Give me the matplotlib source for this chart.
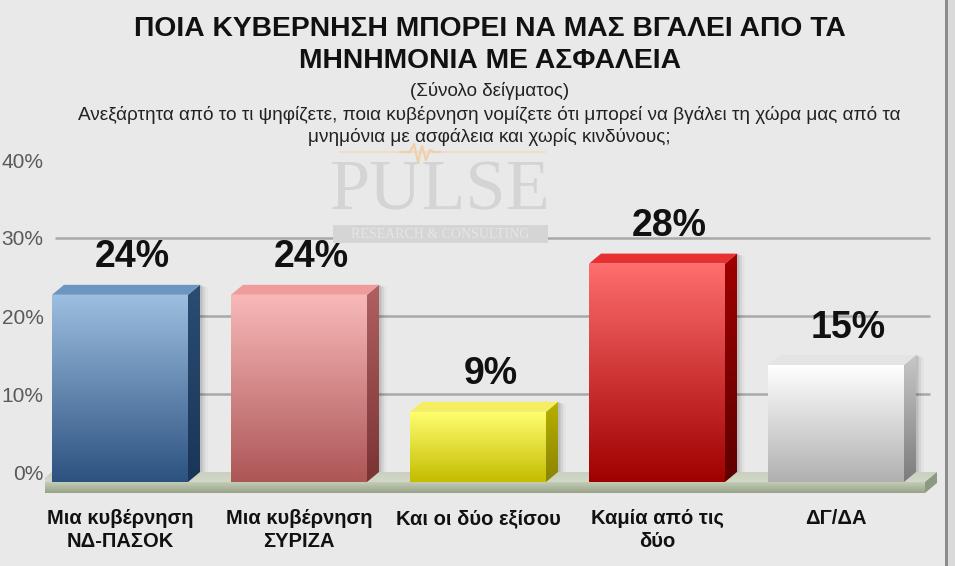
import numpy as np
import matplotlib
matplotlib.use("Agg")
import matplotlib.pyplot as plt
from matplotlib.patches import Polygon, Rectangle
from matplotlib.lines import Line2D
from matplotlib import font_manager as fm
from matplotlib.colors import to_rgb

# ---------------- data ----------------
categories = ["Μια κυβέρνηση\nΝΔ-ΠΑΣΟΚ", "Μια κυβέρνηση\nΣΥΡΙΖΑ", "Και οι δύο εξίσου",
              "Καμία από τις\nδύο", "ΔΓ/ΔΑ"]
values = [24, 24, 9, 28, 15]
value_labels = ["24%", "24%", "9%", "28%", "15%"]
yticks = [0, 10, 20, 30, 40]
ytick_labels = ["0%", "10%", "20%", "30%", "40%"]
gridlines = [10, 20, 30]

title = "ΠΟΙΑ ΚΥΒΕΡΝΗΣΗ ΜΠΟΡΕΙ ΝΑ ΜΑΣ ΒΓΑΛΕΙ ΑΠΟ ΤΑ\nΜΗΝΗΜΟΝΙΑ ΜΕ ΑΣΦΑΛΕΙΑ"
subtitle = "(Σύνολο δείγματος)"
question = ("Ανεξάρτητα από το τι ψηφίζετε, ποια κυβέρνηση νομίζετε ότι μπορεί να βγάλει τη χώρα μας από τα\n"
            "μνημόνια με ασφάλεια και χωρίς κινδύνους;")

# colours: (front top, front bottom, side top, side bottom, top face)
bar_colors = [
    ("#9dbfe0", "#2c5280", "#2a4d74", "#1a3556", "#6c96c2"),
    ("#f9b9b9", "#ad5656", "#b06060", "#7a3434", "#ee9c9c"),
    ("#ffff70", "#c4bc00", "#b8b000", "#8a8400", "#f4ee60"),
    ("#ff6e6e", "#a00000", "#a00000", "#5e0000", "#e83030"),
    ("#ffffff", "#b0b0b0", "#c8c8c8", "#7c7c7c", "#e4e4e4"),
]

# ---------------- fonts ----------------
names = {f.name for f in fm.fontManager.ttflist}
NARROW = "Liberation Sans Narrow" if "Liberation Sans Narrow" in names else "Liberation Sans"
plt.rcParams["font.family"] = ["Liberation Sans", "DejaVu Sans"]

W_PX, H_PX = 955, 566
fig = plt.figure(figsize=(W_PX / 100, H_PX / 100), dpi=100)
fig.patch.set_facecolor("#e9e9e9")

# axes geometry (pixel based)
px_per_unit_x = 179.0
x0_px = 120.0
px_per_pct = 7.8
y0_px = 472.0
ax_left_px, ax_right_px = 45, 955
ax_top_px, ax_bot_px = 152.2, 503.2
ax = fig.add_axes([ax_left_px / W_PX, 1 - ax_bot_px / H_PX,
                   (ax_right_px - ax_left_px) / W_PX, (ax_bot_px - ax_top_px) / H_PX])
ax.set_facecolor("none")
xl = ((ax_left_px - x0_px) / px_per_unit_x, (ax_right_px - x0_px) / px_per_unit_x)
yl = ((y0_px - ax_bot_px) / px_per_pct, (y0_px - ax_top_px) / px_per_pct)

W = 136 / px_per_unit_x
DX = 12 / px_per_unit_x
DY = 10 / px_per_pct


def grad_poly(verts, c_top, c_bot, z):
    verts = np.asarray(verts)
    poly = Polygon(verts, closed=True, facecolor="none", edgecolor="none", zorder=z)
    ax.add_patch(poly)
    t = np.linspace(0, 1, 200)[:, None]
    a, b = np.array(to_rgb(c_top)), np.array(to_rgb(c_bot))
    arr = (a[None, :] * (1 - t) + b[None, :] * t)[:, None, :]
    im = ax.imshow(arr, extent=(verts[:, 0].min(), verts[:, 0].max(),
                                verts[:, 1].min(), verts[:, 1].max()),
                   aspect="auto", origin="upper", zorder=z, interpolation="bilinear")
    im.set_clip_path(poly)
    return im


# watermark (behind everything)
fig.text(440 / W_PX, 1 - 192 / H_PX, "PULSE", ha="center", va="center",
         family=["Liberation Serif", "DejaVu Serif"], fontsize=52, color="#d4d4d4", zorder=0)
fig.patches.append(Rectangle((333 / W_PX, 1 - 243 / H_PX), 215 / W_PX, 18 / H_PX,
                             transform=fig.transFigure, facecolor="#d5d5d5",
                             edgecolor="none", zorder=0))
fig.text(440 / W_PX, 1 - 234 / H_PX, "RESEARCH & CONSULTING", ha="center", va="center",
         family=["Liberation Serif", "DejaVu Serif"], fontsize=10, color="#e6e6e6", zorder=0)
fig.lines.append(Line2D(np.array([340, 545]) / W_PX, [1 - 152 / H_PX] * 2,
                        transform=fig.transFigure, color="#f0dcc8", linewidth=1.5, zorder=0))
pulse_x = np.array([400, 410, 414, 418, 422, 426, 430, 434, 440])
pulse_y = np.array([152, 152, 144, 162, 146, 160, 150, 152, 152])
fig.lines.append(Line2D(pulse_x / W_PX, 1 - pulse_y / H_PX,
                        transform=fig.transFigure, color="#efcfa8", linewidth=1.5, zorder=0))

# gridlines on back wall
ax.hlines(gridlines, (55 - x0_px) / px_per_unit_x, (930 - x0_px) / px_per_unit_x,
          colors="#a8a8a8", linewidth=1.8, zorder=1)

# floor
fl_l, fl_r = (40 - x0_px) / px_per_unit_x, (925 - x0_px) / px_per_unit_x
FH = 11 / px_per_pct
grad_poly([(fl_l, -DY), (fl_r, -DY), (fl_r + DX, 0), (fl_l + DX, 0)], "#c9d0bd", "#d3d9c8", 2)
grad_poly([(fl_l, -DY - FH), (fl_r, -DY - FH), (fl_r, -DY), (fl_l, -DY)], "#c4ccb5", "#97a289", 2)
ax.add_patch(Polygon([(fl_r, -DY - FH), (fl_r + DX, -FH), (fl_r + DX, 0), (fl_r, -DY)],
                     closed=True, facecolor="#8e9a80", edgecolor="none", zorder=2))

# bars
for i, (v, cols) in enumerate(zip(values, bar_colors)):
    ftop, fbot, stop, sbot, topc = cols
    xl_, xr_ = i - W / 2, i + W / 2
    # soft shadow on the right
    for k, al in enumerate([0.10, 0.06, 0.03]):
        off = (k + 1) * 2.5 / px_per_unit_x
        ax.add_patch(Polygon([(xr_ + DX, 0), (xr_ + DX + off, 0), (xr_ + DX + off, v - 0.3),
                              (xr_ + DX, v)], closed=True, facecolor="black", alpha=al,
                             edgecolor="none", zorder=3))
    grad_poly([(xl_, -DY), (xr_, -DY), (xr_, v - DY), (xl_, v - DY)], ftop, fbot, 5)
    grad_poly([(xr_, -DY), (xr_ + DX, 0), (xr_ + DX, v), (xr_, v - DY)], stop, sbot, 5)
    ax.add_patch(Polygon([(xl_, v - DY), (xr_, v - DY), (xr_ + DX, v), (xl_ + DX, v)],
                         closed=True, facecolor=topc, edgecolor="none", zorder=5))
    ax.text(i + 0.07, v + 3.5, value_labels[i], ha="center", va="center",
            fontsize=27, fontweight="bold", color="#111111", zorder=6)

ax.set_xlim(*xl)
ax.set_ylim(*yl)
ax.set_yticks(yticks, ytick_labels)
ax.set_xticks(range(len(categories)), categories)
ax.tick_params(axis="y", length=0, pad=1, labelsize=15, labelcolor="#5a5a5a")
ax.tick_params(axis="x", length=0, pad=4, labelsize=14.5, labelcolor="#111111")
for lab in ax.get_xticklabels():
    lab.set_family([NARROW, "DejaVu Sans"])
    lab.set_fontweight("bold")
    lab.set_linespacing(1.25)
for lab in ax.get_yticklabels():
    lab.set_family([NARROW, "DejaVu Sans"])
for s in ax.spines.values():
    s.set_visible(False)

# titles
fig.text(490 / W_PX, 1 - 45 / H_PX, title, ha="center", va="center",
         family=[NARROW, "DejaVu Sans"], fontsize=20.3, fontweight="bold",
         color="#111111", linespacing=1.25)
fig.text(490 / W_PX, 1 - 91 / H_PX, subtitle, ha="center", va="center",
         family=[NARROW, "DejaVu Sans"], fontsize=13.5, color="#222222")
fig.text(489 / W_PX, 1 - 126 / H_PX, question, ha="center", va="center",
         family=[NARROW, "DejaVu Sans"], fontsize=13.7, color="#222222", linespacing=1.35)

# right frame
fig.patches.append(Rectangle((945 / W_PX, 0), 3 / W_PX, 1, transform=fig.transFigure,
                             facecolor="#8c8c8c", edgecolor="none"))
fig.patches.append(Rectangle((948 / W_PX, 0), 7 / W_PX, 1, transform=fig.transFigure,
                             facecolor="#dadada", edgecolor="none"))

fig.savefig("out.png", dpi=100, facecolor=fig.get_facecolor())
